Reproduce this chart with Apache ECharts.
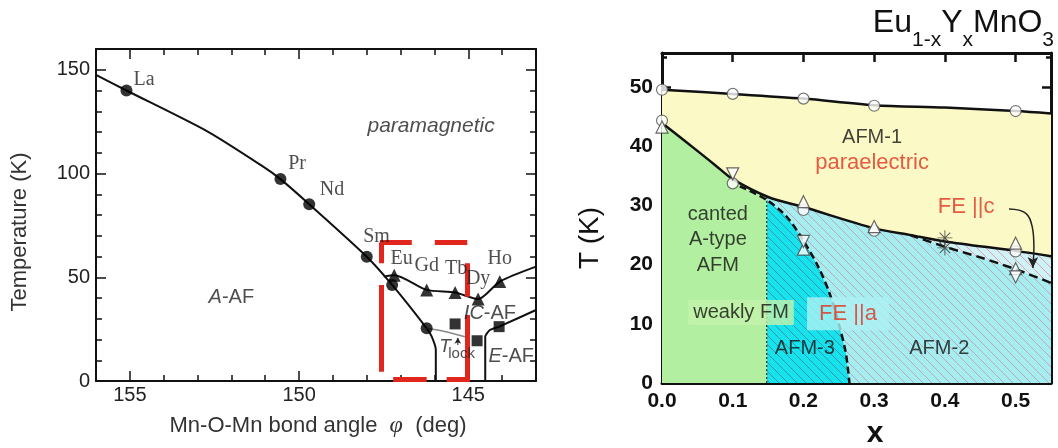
<!DOCTYPE html>
<html><head><meta charset="utf-8">
<script src="https://cdn.jsdelivr.net/npm/echarts@6/dist/echarts.min.js"></script>
<style>html,body{margin:0;padding:0;background:#fff}#c{width:1058px;height:448px}</style>
</head><body><div id="c"></div>
<script>
// ================= LEFT PANEL: T vs Mn-O-Mn bond angle =================
const leftAngleLabels = [145, 150, 155];
const leftAngleTicks = [143, 144, 145, 146, 147, 148, 149, 150, 151, 152, 153, 154, 155, 156];
const leftTempLabels = [0, 50, 100, 150];
const leftTempTicks = [0, 10, 20, 30, 40, 50, 60, 70, 80, 90, 100, 110, 120, 130, 140, 150];
const neelCircles = [[155.1, 140], [150.55, 97.3], [149.7, 85.2], [148.0, 59.9], [147.25, 46.3], [146.23, 25.4]];
const icTriangles = [[147.19, 51.0], [146.23, 43.9], [145.39, 42.7], [144.71, 39.5], [144.07, 47.9]];
const lockSquares = [[145.39, 27.5], [144.74, 19.4], [144.09, 26.2]];
const aafBoundary = [[156, 147.5], [155.1, 140], [152.7, 120.2], [151.06, 103.3], [150.55, 97.3], [149.7, 85.2], [148.0, 59.9], [147.25, 46.3], [146.23, 25.4], [146.08, 21.4], [145.96, 15], [145.96, 0]];
const icBoundary = [[147.5, 50.3], [147.19, 51.0], [146.23, 43.9], [145.39, 42.7], [144.71, 39.5], [144.07, 47.9], [143, 55.1]];
const eafBoundary = [[144.5, 0], [144.5, 21.4], [144.36, 24.6], [144.09, 26.2], [143, 34.2]];
const tlockLine = [[146.23, 25.4], [145.7, 23.9], [145.1, 21.3]];
const tlockArrow = [[145.31, 17.3], [145.31, 20.8]];
const elementLabels = [['La', 154.58, 145.1], ['Pr', 150.06, 104.6], ['Nd', 149.03, 92.3], ['Sm', 147.71, 69.5], ['Eu', 146.97, 59.1], ['Gd', 146.23, 55.4], ['Tb', 145.36, 54.3], ['Dy', 144.71, 49.5], ['Ho', 144.07, 58.7]];
const leftPhaseLabels = [['paramagnetic', 146.1, 122.9], ['{i|A}-AF', 152.0, 40.3], ['{i|IC}-AF', 144.36, 32.6], ['{i|E}-AF', 143.73, 11.7]];
const tlockLabel = [['T', 145.69, 16.5], ['lock', 145.2, 13.3]];
// red dashed box (highlighting Eu..Dy region), dash segments in data units
const redDashes = [
  [[147.61, 66.8], [146.67, 66.8]], [[145.99, 66.8], [145.03, 66.8]],
  [[147.56, 66.8], [147.56, 56.7]], [[147.56, 46.3], [147.56, 4.5]],
  [[147.22, 1.0], [146.23, 1.0]], [[145.64, 1.0], [144.95, 1.0]],
  [[145.03, 56.7], [145.03, 40.6]], [[145.03, 31.8], [145.03, 1.0]]
];

// ================= RIGHT PANEL: Eu1-xYxMnO3 =================
const rightXLabels = [0, 0.1, 0.2, 0.3, 0.4, 0.5];
const rightTLabels = [0, 10, 20, 30, 40, 50];
const rightTMinor = [5, 15, 25, 35, 45, 55];
const tnLine = [[0, 49.5], [0.1, 48.8], [0.2, 48.0], [0.3, 46.9], [0.4, 46.5], [0.5, 45.9], [0.55, 45.5]];
const lowerLine = [[0, 43.9], [0.054, 38.8], [0.077, 36.6], [0.1, 34.4], [0.15, 31.4], [0.2, 29.7], [0.3, 26.1], [0.35, 25.0], [0.4, 23.9], [0.5, 22.3], [0.55, 21.4]];
const afm3Boundary = [[0.11, 33.2], [0.148, 30.9], [0.176, 28.1], [0.199, 24.2], [0.221, 19.6], [0.237, 15.1], [0.251, 9.5], [0.26, 5.0], [0.265, 0]];
const fecBoundary = [[0.35, 25.0], [0.4, 23.0], [0.45, 21.2], [0.5, 19.2], [0.55, 16.9]];
const cantedX = 0.148;
const openCircles = [[0, 49.5], [0.1, 48.8], [0.2, 48.0], [0.3, 46.8], [0.5, 45.9], [0, 44.3], [0.1, 33.7], [0.2, 29.2], [0.3, 25.7], [0.5, 22.2]];
const upTriangles = [[0, 43.2], [0.2, 30.6], [0.3, 26.4], [0.2, 22.6], [0.5, 23.6], [0.5, 19.3]];
const downTriangles = [[0.1, 35.3], [0.2, 23.9], [0.5, 17.9]];
const stars = [[0.4, 24.5], [0.4, 22.8]];
const fecArrow = [[0.4906, 29.35], [0.514, 28.67], [0.5234, 26.4], [0.5258, 23.0], [0.5244, 19.4]];
const rightBlackLabels = [['AFM-1', 0.297, 41.4], ['canted', 0.079, 28.4], ['A-type', 0.079, 24.2], ['AFM', 0.079, 19.9], ['AFM-3', 0.202, 5.8], ['AFM-2', 0.392, 5.8]];
const rightRedLabels = [['paraelectric', 0.297, 37.1], ['FE ||c', 0.430, 29.8]];
const boxedLabels = [['weakly FM', 0.1117, 11.9, 'g'], ['FE ||a', 0.263, 11.7, 'c']];
const titleParts = [['Eu', 0], ['1-x', 1], ['Y', 0], ['x', 1], ['MnO', 0], ['3', 1]];

// ---------- helpers ----------
const SANS = 'Arial';
const SERIF = 'Times New Roman';
function interp(line, x) {
  for (let i = 0; i < line.length - 1; i++) {
    const a = line[i], b = line[i + 1];
    if (x >= a[0] && x <= b[0]) return a[1] + (b[1] - a[1]) * (x - a[0]) / (b[0] - a[0]);
  }
  return line[line.length - 1][1];
}
function hatch(bg, color, size, lw) {
  const c = document.createElement('canvas');
  c.width = c.height = size;
  const g = c.getContext('2d');
  g.fillStyle = bg; g.fillRect(0, 0, size, size);
  g.strokeStyle = color; g.lineWidth = lw;
  g.beginPath();
  for (let k = -1; k <= 1; k++) { g.moveTo(0, k * size); g.lineTo(size, size + k * size); }
  g.stroke();
  return { image: c, repeat: 'repeat' };
}
function axis(dim, grid, pos, min, max, tickVals, tickLen, labelVals, o) {
  o = o || {};
  return {
    type: 'value', gridIndex: grid, position: pos, min: min, max: max, inverse: !!o.inverse,
    axisLine: { show: !!o.line, onZero: false, lineStyle: { color: '#111', width: o.lw || 2 } },
    axisTick: { show: true, inside: true, length: tickLen, customValues: tickVals, lineStyle: { color: '#111', width: o.tw || 1.5 } },
    axisLabel: labelVals ? Object.assign({ show: true, customValues: labelVals }, o.label) : { show: false },
    splitLine: { show: false }
  };
}

// right panel region polygons built from boundaries
const RX = 0.55;
const yellowPoly = tnLine.concat(lowerLine.slice().reverse());
const greenPoly = [[0, 0]].concat(lowerLine.filter(p => p[0] < cantedX), [[cantedX, interp(lowerLine, cantedX)], [cantedX, 0]]);
const afm2Poly = [[cantedX, 0], [cantedX, interp(lowerLine, cantedX)]].concat(lowerLine.filter(p => p[0] > cantedX), [[RX, 0]]);
const fecPoly = lowerLine.filter(p => p[0] >= fecBoundary[0][0]).concat(fecBoundary.slice().reverse());
const afm3Poly = [[cantedX, 0]].concat(afm3Boundary.filter(p => p[0] >= cantedX));

const regions = [
  { pts: yellowPoly, fill: '#fbf9c6' },
  { pts: afm2Poly, fill: hatch('#a4eef2', '#c3a6b0', 9, 1) },
  { pts: fecPoly, fill: hatch('#cdf3f6', '#e29fb2', 9, 1) },
  { pts: afm3Poly, fill: hatch('#16e3ee', '#3d97a6', 9, 1) },
  { pts: greenPoly, fill: '#b3efa0' }
];

function textSeries(xi, yi, items, labelStyle, z) {
  return {
    type: 'scatter', xAxisIndex: xi, yAxisIndex: yi, silent: true, z: z || 8,
    symbolSize: 1, itemStyle: { color: 'rgba(0,0,0,0)' },
    data: items.map(t => ({ value: [t[1], t[2]], label: Object.assign({ show: true, position: 'inside', formatter: t[0] }, typeof labelStyle === 'function' ? labelStyle(t) : labelStyle) }))
  };
}

// title built from parts, measured so subscripts sit after each main piece
const mctx = document.createElement('canvas').getContext('2d');
function textW(s, size) { mctx.font = size + 'px Arial'; return mctx.measureText(s).width; }
const TMAIN = 32, TSUB = 21, TRIGHT = 1054;
const widths = titleParts.map(p => textW(p[0], p[1] ? TSUB : TMAIN));
let tx = TRIGHT - widths.reduce((a, b) => a + b, 0);
const titleGraphics = titleParts.map((p, i) => {
  const g = { type: 'text', x: tx, y: p[1] ? 40 : 23, style: { text: p[0], fontFamily: SANS, fontSize: p[1] ? TSUB : TMAIN, fill: '#111', align: 'left', verticalAlign: 'middle' } };
  tx += widths[i];
  return g;
});

const chart = echarts.init(document.getElementById('c'));
const leftLbl = { fontFamily: SANS, fontSize: 20, color: '#222' };
const rightLbl = { fontFamily: SANS, fontSize: 21, fontWeight: 'bold', color: '#111' };

chart.setOption({
  animation: false,
  grid: [
    { left: 96, top: 49, width: 440, height: 332 },
    { left: 662, top: 53, width: 389, height: 330 }
  ],
  xAxis: [
    axis('x', 0, 'bottom', 143, 156, leftAngleLabels, 10, leftAngleLabels, { inverse: true, line: true, label: Object.assign({ margin: 4 }, leftLbl) }),
    axis('x', 0, 'bottom', 143, 156, leftAngleTicks, 6, null, { inverse: true }),
    axis('x', 0, 'top', 143, 156, leftAngleLabels, 10, null, { inverse: true, line: true }),
    axis('x', 0, 'top', 143, 156, leftAngleTicks, 6, null, { inverse: true }),
    axis('x', 1, 'bottom', 0, RX, rightXLabels, 9, rightXLabels, { line: true, lw: 3, tw: 2.5, label: Object.assign({ margin: 8, formatter: v => v.toFixed(1) }, rightLbl) }),
    axis('x', 1, 'top', 0, RX, rightXLabels, 9, null, { line: true, lw: 3, tw: 2.5 })
  ],
  yAxis: [
    axis('y', 0, 'left', 0, 160, leftTempLabels, 10, leftTempLabels, { line: true, label: Object.assign({ margin: 6 }, leftLbl) }),
    axis('y', 0, 'left', 0, 160, leftTempTicks, 6, null, {}),
    axis('y', 0, 'right', 0, 160, leftTempLabels, 10, null, { line: true }),
    axis('y', 0, 'right', 0, 160, leftTempTicks, 6, null, {}),
    axis('y', 1, 'left', 0, 55.7, rightTLabels, 9, rightTLabels, { line: true, lw: 3, tw: 2.5, label: Object.assign({ margin: 9 }, rightLbl) }),
    axis('y', 1, 'left', 0, 55.7, rightTMinor, 5, null, { tw: 2.5 }),
    axis('y', 1, 'right', 0, 55.7, rightTLabels, 9, null, { line: true, lw: 3, tw: 2.5 }),
    axis('y', 1, 'right', 0, 55.7, rightTMinor, 5, null, { tw: 2.5 })
  ],
  graphic: [
    { type: 'text', x: 20, y: 232, rotation: Math.PI / 2, style: { text: 'Temperature (K)', fontFamily: SANS, fontSize: 22, fill: '#333', align: 'center', verticalAlign: 'middle' } },
    { type: 'text', x: 318, y: 426, style: { text: 'Mn-O-Mn bond angle  {i|φ}  (deg)', fontFamily: SANS, fontSize: 22, fill: '#333', align: 'center', verticalAlign: 'middle', rich: { i: { fontStyle: 'italic', fontFamily: SERIF, fontSize: 24, fill: '#333' } } } },
    { type: 'text', x: 590, y: 238, rotation: Math.PI / 2, style: { text: 'T (K)', fontFamily: SANS, fontSize: 28, fill: '#111', align: 'center', verticalAlign: 'middle' } },
    { type: 'text', x: 875, y: 434, style: { text: 'x', fontFamily: SANS, fontSize: 30, fontWeight: 'bold', fill: '#111', align: 'center', verticalAlign: 'middle' } }
  ].concat(titleGraphics),
  series: [
    // ---------- left panel ----------
    { type: 'line', xAxisIndex: 0, yAxisIndex: 0, data: aafBoundary, smooth: 0.25, symbol: 'none', lineStyle: { color: '#111', width: 2 }, z: 3 },
    { type: 'line', xAxisIndex: 0, yAxisIndex: 0, data: icBoundary, smooth: 0.25, symbol: 'none', lineStyle: { color: '#111', width: 2 }, z: 3 },
    { type: 'line', xAxisIndex: 0, yAxisIndex: 0, data: eafBoundary, smooth: 0.2, symbol: 'none', lineStyle: { color: '#111', width: 2 }, z: 3 },
    { type: 'line', xAxisIndex: 0, yAxisIndex: 0, data: tlockLine, smooth: 0.3, symbol: 'none', lineStyle: { color: '#888', width: 1.5 }, z: 3 },
    { type: 'line', xAxisIndex: 0, yAxisIndex: 0, data: tlockArrow.map((p, i) => i === 1 ? { value: p, symbol: 'arrow', symbolSize: [5, 6] } : { value: p, symbol: 'none' }), showSymbol: true, lineStyle: { color: '#222', width: 1 }, itemStyle: { color: '#222' }, z: 3 },
    { type: 'scatter', xAxisIndex: 0, yAxisIndex: 0, data: neelCircles, symbol: 'circle', symbolSize: 12, itemStyle: { color: '#000' }, z: 4 },
    { type: 'scatter', xAxisIndex: 0, yAxisIndex: 0, data: icTriangles, symbol: 'triangle', symbolSize: 13, itemStyle: { color: '#000' }, z: 4 },
    { type: 'scatter', xAxisIndex: 0, yAxisIndex: 0, data: lockSquares, symbol: 'rect', symbolSize: 11, itemStyle: { color: '#000' }, z: 4 },
    { type: 'lines', coordinateSystem: 'cartesian2d', xAxisIndex: 0, yAxisIndex: 0, data: redDashes.map(s => ({ coords: s })), lineStyle: { color: '#e0261d', width: 5, opacity: 1, cap: 'butt' }, z: 5 },
    textSeries(0, 0, elementLabels, { fontFamily: SERIF, fontSize: 20, color: '#222' }),
    textSeries(0, 0, leftPhaseLabels, t => ({ fontFamily: SANS, fontSize: t[0] === 'paramagnetic' ? 21 : 20, fontStyle: t[0] === 'paramagnetic' ? 'italic' : 'normal', color: '#222',
      rich: { i: { fontFamily: SANS, fontSize: 20, fontStyle: 'italic', color: '#222' } } })),
    textSeries(0, 0, tlockLabel, t => ({ fontFamily: SANS, fontSize: t[0] === 'T' ? 19 : 15, fontStyle: t[0] === 'T' ? 'italic' : 'normal', color: '#222' })),

    // ---------- right panel ----------
    { type: 'custom', xAxisIndex: 4, yAxisIndex: 4, silent: true, z: 1, clip: true,
      data: regions.map((r, i) => [i]),
      renderItem: (params, api) => {
        const r = regions[params.dataIndex];
        return { type: 'polygon', shape: { points: r.pts.map(p => api.coord(p)) }, style: { fill: r.fill } };
      } },
    { type: 'line', xAxisIndex: 4, yAxisIndex: 4, data: [[cantedX, 0], [cantedX, interp(lowerLine, cantedX)]], symbol: 'none', lineStyle: { color: '#333', width: 1.2, type: [2, 2] }, z: 3 },
    { type: 'line', xAxisIndex: 4, yAxisIndex: 4, data: afm3Boundary, smooth: 0.3, symbol: 'none', lineStyle: { color: '#111', width: 2.5, type: [7, 4] }, z: 3 },
    { type: 'line', xAxisIndex: 4, yAxisIndex: 4, data: fecBoundary, smooth: 0.3, symbol: 'none', lineStyle: { color: '#111', width: 2.5, type: [9, 5] }, z: 3 },
    { type: 'line', xAxisIndex: 4, yAxisIndex: 4, data: tnLine, smooth: 0.3, symbol: 'none', lineStyle: { color: '#111', width: 2.5 }, z: 3 },
    { type: 'line', xAxisIndex: 4, yAxisIndex: 4, data: lowerLine, smooth: 0.3, symbol: 'none', lineStyle: { color: '#111', width: 2.5 }, z: 3 },
    { type: 'line', xAxisIndex: 4, yAxisIndex: 4, data: fecArrow.map((p, i) => i === fecArrow.length - 1 ? { value: p, symbol: 'arrow', symbolSize: [8, 11], symbolRotate: 180 } : { value: p, symbol: 'none' }), showSymbol: true, smooth: 0.4, lineStyle: { color: '#222', width: 1.5 }, itemStyle: { color: '#222' }, z: 6 },
    { type: 'scatter', xAxisIndex: 4, yAxisIndex: 4, data: openCircles, symbol: 'circle', symbolSize: 11, itemStyle: { color: '#fff', borderColor: '#555', borderWidth: 1.2 }, z: 4 },
    { type: 'scatter', xAxisIndex: 4, yAxisIndex: 4, data: upTriangles, symbol: 'triangle', symbolSize: 12, itemStyle: { color: '#fff', borderColor: '#444', borderWidth: 1.2 }, z: 4 },
    { type: 'scatter', xAxisIndex: 4, yAxisIndex: 4, data: downTriangles, symbol: 'triangle', symbolRotate: 180, symbolSize: 12, itemStyle: { color: '#fff', borderColor: '#444', borderWidth: 1.2 }, z: 4 },
    { type: 'scatter', xAxisIndex: 4, yAxisIndex: 4, data: stars, symbol: 'path://M9.4,0h1.2v20h-1.2z M0,9.4h20v1.2h-20z M2.5,3.4l0.9,-0.9l14.1,14.1l-0.9,0.9z M2.5,16.6l14.1,-14.1l0.9,0.9l-14.1,14.1z', symbolSize: 15, itemStyle: { color: '#333' }, z: 4 },
    textSeries(4, 4, rightBlackLabels, { fontFamily: SANS, fontSize: 20, color: '#111' }),
    textSeries(4, 4, rightRedLabels, { fontFamily: SANS, fontSize: 22, color: '#e0321e' }),
    textSeries(4, 4, boxedLabels, t => t[3] === 'g'
      ? { fontFamily: SANS, fontSize: 20, color: '#111', backgroundColor: '#c4f2ab', padding: [3, 5, 2, 5] }
      : { fontFamily: SANS, fontSize: 22, color: '#e0321e', backgroundColor: '#adf1f4', padding: [6, 12, 5, 12] }, 9)
  ]
});
</script></body></html>
